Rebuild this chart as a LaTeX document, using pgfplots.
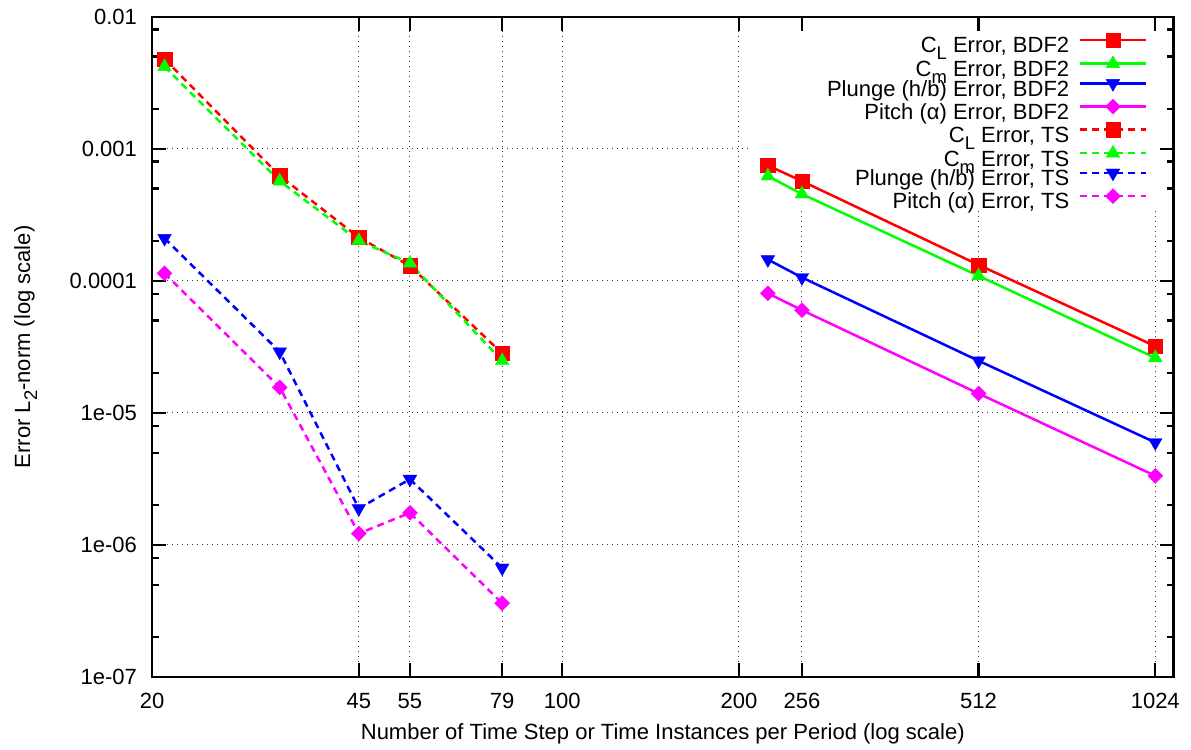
\documentclass[border=0pt]{standalone}
\usepackage{fontspec}
\setmainfont{Liberation Sans}
\usepackage{pgfplots}
\pgfplotsset{compat=1.18}
\newcommand{\sub}[1]{\raisebox{-0.32em}{\fontsize{9.2bp}{9.2bp}\selectfont #1}}
\newcommand{\legtxt}[1]{\rule[-2.9bp]{0pt}{10.55bp}\smash{#1}}
\definecolor{gn}{RGB}{0,255,0}
\definecolor{mg}{RGB}{255,0,255}
\pgfplotsset{
  bdf/.style={solid, line width=1.25bp},
  ts/.style={line width=1.25bp, dash pattern=on 3.5bp off 2.5bp},
  msq/.style={mark=square*, mark size=3.6bp, mark options={solid, line width=0.2bp}},
  mtri/.style={mark=triangle*, mark size=3.95bp, mark options={solid, line width=0.2bp}},
  mdtri/.style={mark=triangle*, mark size=3.95bp, mark options={solid, rotate=180, line width=0.2bp}},
  mdia/.style={mark=square*, mark size=2.65bp, mark options={solid, rotate=45, line width=0.2bp}},
}
\begin{document}
\begin{tikzpicture}
\begin{axis}[
  scale only axis, width=510.5bp, height=330bp,
  xmode=log, ymode=log,
  xmin=20, xmax=1100, ymin=1e-7, ymax=1e-2,
  xtick={20,45,55,79,100,200,256,512,1024},
  xticklabels={20,45,55,79,100,200,256,512,1024},
  ytick={1e-7,1e-6,1e-5,1e-4,1e-3,1e-2},
  yticklabels={1e-07,1e-06,1e-05,0.0001,0.001,0.01},
  xminorticks=false,
  yminorticks=true,
  minor ytick={2e-7,5e-7,8e-7,2e-6,5e-6,8e-6,2e-5,5e-5,8e-5,2e-4,5e-4,8e-4,2e-3,5e-3,8e-3},
  xmajorgrids=true, ymajorgrids=true, yminorgrids=false,
  major grid style={black!80, line width=0.5bp, dash pattern=on 0.5bp off 2bp},
  major tick length=7bp, minor tick length=3.5bp,
  tick style={black, line width=1.1bp},
  axis line style={line width=1.2bp},
  font=\fontsize{11bp}{13.2bp}\selectfont,
  xticklabel style={anchor=north, inner sep=0pt, yshift=-7.8bp},
  yticklabel style={anchor=east, inner sep=0pt, xshift=-7.35bp},
  xlabel={Number of Time Step or Time Instances per Period (log scale)},
  ylabel={Error L\sub{2}-norm (log scale)},
  xlabel style={at={(axis description cs:0.5,-0.0944)}, anchor=base, inner sep=0pt},
  ylabel style={at={(axis description cs:-0.1195,0.5)}, anchor=base, inner sep=0pt},
  legend style={at={(axis description cs:0.9742,0.9762)}, anchor=north east,
    draw=none, fill=none, inner sep=0pt, row sep=0pt, column sep=5bp,
    nodes={inner sep=0pt}},
  legend cell align=right, legend plot pos=right,
  legend image code/.code={\draw[mark repeat=2,mark phase=2,#1] plot coordinates {(0bp,3.3bp) (16.25bp,3.3bp) (32.5bp,3.3bp)};},
]
\fill[white] (rel axis cs:0.5857,0.7117) rectangle (rel axis cs:0.9853,0.9783);

\addplot[red, bdf, msq] coordinates {(224,7.48e-4) (256,5.69e-4) (512,1.32e-4) (1024,3.20e-5)};
\addlegendentry{\legtxt{C\sub{L} Error, BDF2}}
\addplot[gn, bdf, mtri] coordinates {(224,6.21e-4) (256,4.54e-4) (512,1.09e-4) (1024,2.61e-5)};
\addlegendentry{\legtxt{C\sub{m} Error, BDF2}}
\addplot[blue, bdf, mdtri] coordinates {(224,1.45e-4) (256,1.06e-4) (512,2.48e-5) (1024,5.97e-6)};
\addlegendentry{\legtxt{Plunge (h/b) Error, BDF2}}
\addplot[mg, bdf, mdia] coordinates {(224,8.04e-5) (256,6.0e-5) (512,1.40e-5) (1024,3.34e-6)};
\addlegendentry{\legtxt{Pitch (α) Error, BDF2}}

\addplot[red, ts, msq] coordinates {(21,4.78e-3) (33,6.24e-4) (45,2.13e-4) (55,1.30e-4) (79,2.82e-5)};
\addlegendentry{\legtxt{C\sub{L} Error, TS}}
\addplot[gn, ts, mtri] coordinates {(21,4.18e-3) (33,5.69e-4) (45,2.01e-4) (55,1.36e-4) (79,2.48e-5)};
\addlegendentry{\legtxt{C\sub{m} Error, TS}}
\addplot[blue, ts, mdtri] coordinates {(21,2.10e-4) (33,2.90e-5) (45,1.89e-6) (55,3.15e-6) (79,6.70e-7)};
\addlegendentry{\legtxt{Plunge (h/b) Error, TS}}
\addplot[mg, ts, mdia] coordinates {(21,1.14e-4) (33,1.56e-5) (45,1.22e-6) (55,1.75e-6) (79,3.62e-7)};
\addlegendentry{\legtxt{Pitch (α) Error, TS}}
\end{axis}
\path (current axis.south west) ++(-76bp,-36.15bp) rectangle ([xshift=8.75bp,yshift=8.35bp]current axis.north east);
\end{tikzpicture}
\end{document}
